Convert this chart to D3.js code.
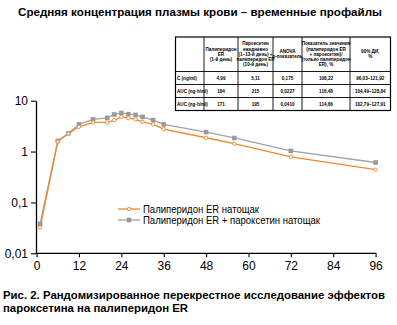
<!DOCTYPE html>
<html>
<head>
<meta charset="utf-8">
<script src="https://cdn.jsdelivr.net/npm/d3@7/dist/d3.min.js"></script>
<style>
  html, body { margin: 0; padding: 0; background: #fff; }
  svg { display: block; font-family: "Liberation Sans", Arial, sans-serif; }
</style>
</head>
<body>
<svg id="chart" width="397" height="325"></svg>
<script>
// Time points, hours
const hours = [1, 6, 9, 12, 16, 20, 22, 24, 26, 28, 30, 33, 36, 48, 56, 72, 96];
// Mean plasma concentration, ng/ml
const palFasted = [0.032, 1.57, 2.24, 3.07, 3.74, 3.74, 4.15, 4.81, 4.54, 4.28, 3.85, 3.42, 2.77, 1.87, 1.43, 0.79, 0.44];
const palParoxFasted = [0.038, 1.62, 2.28, 3.42, 4.28, 4.6, 5.36, 5.76, 5.43, 5.26, 4.81, 4.15, 3.42, 2.42, 1.85, 1.03, 0.61];
const seriesNames = ["Палиперидон ER натощак", "Палиперидон ER + пароксетин натощак"];
const xTicks = [0, 12, 24, 36, 48, 60, 72, 84, 96];
const yTicks = [0.01, 0.1, 1, 10];
const yTickLabels = ["0,01", "0,1", "1", "10"];

// Pharmacokinetic summary table
const tableHeader = [
  [""],
  ["Палиперидон", "ER", "(1-й день)"],
  ["Пароксетин", "ежедневно", "(1–13-й день) +", "палиперидон ER", "(10-й день)"],
  ["ANOVA", "p-показатель"],
  ["Показатель значения", "(палиперидон ER", "+ пароксетин)/", "(только палиперидон", "ER), %"],
  ["90% ДИ,", "%"]
];
const tableRows = [
  ["C (ng/ml)", "4,99", "5,11", "0,175", "108,22", "96,03–121,92"],
  ["AUC (ng·h/ml)", "184", "215", "0,0227", "116,48", "104,49–128,84"],
  ["AUC (ng·h/ml)", "171", "195", "0,0410", "114,66", "102,79–127,91"]
];

const svg = d3.select("#chart");
const orange = "#f0882c";
const grey = "#a3a3a3";

// Title
svg.append("text")
  .attr("x", 18).attr("y", 16)
  .attr("font-size", 11.5).attr("font-weight", "bold")
  .attr("textLength", 364).attr("lengthAdjust", "spacingAndGlyphs")
  .text("Средняя концентрация плазмы крови – временные профайлы");

// Scales
const x = d3.scaleLinear().domain([0, 96]).range([36.6, 375.6]);
const y = d3.scaleLog().domain([0.01, 10]).range([253.3, 100.7]);

// Axes
const xAxis = d3.axisBottom(x).tickValues(xTicks).tickSize(4).tickSizeOuter(0).tickFormat(d3.format("d"));
const gx = svg.append("g").attr("transform", `translate(0,${y(0.01)})`).call(xAxis);
gx.select(".domain").attr("d", `M36,0H${x(96) + 0.5}`).attr("stroke", "#000").attr("stroke-width", 1.3);
gx.selectAll(".tick line").attr("stroke", "#000").attr("stroke-width", 1.1);
gx.selectAll(".tick text").attr("font-size", 12).attr("fill", "#000").attr("dy", "0.85em").attr("font-family", "Liberation Sans, Arial, sans-serif");

const yAxis = d3.axisLeft(y).tickValues(yTicks).tickSize(5).tickSizeOuter(0)
  .tickFormat((d, i) => yTickLabels[i]);
const gy = svg.append("g").attr("transform", `translate(36,0)`).call(yAxis);
gy.select(".domain").attr("stroke", "#000").attr("stroke-width", 1.3);
gy.selectAll(".tick line").attr("stroke", "#000").attr("stroke-width", 1.1);
gy.selectAll(".tick text").attr("font-size", 12).attr("fill", "#000").attr("x", -8).attr("font-family", "Liberation Sans, Arial, sans-serif");

// Series
const line = d3.line().x(d => x(d[0])).y(d => y(d[1]));
const greyData = hours.map((h, i) => [h, palParoxFasted[i]]);
const orangeData = hours.map((h, i) => [h, palFasted[i]]);

svg.append("path").datum(greyData).attr("d", line)
  .attr("fill", "none").attr("stroke", grey).attr("stroke-width", 1.3);
svg.append("path").datum(orangeData).attr("d", line)
  .attr("fill", "none").attr("stroke", orange).attr("stroke-width", 1.3);

svg.append("g").selectAll("rect").data(greyData).join("rect")
  .attr("x", d => x(d[0]) - 2.3).attr("y", d => y(d[1]) - 2.3)
  .attr("width", 4.6).attr("height", 4.6).attr("fill", "#9a9a9a");
svg.append("g").selectAll("circle").data(orangeData).join("circle")
  .attr("cx", d => x(d[0])).attr("cy", d => y(d[1])).attr("r", 1.7)
  .attr("fill", "#fff").attr("stroke", orange).attr("stroke-width", 0.9);

// Legend
const legend = svg.append("g");
const legY = [209, 220];
legend.append("line").attr("x1", 118).attr("x2", 140).attr("y1", legY[0]).attr("y2", legY[0])
  .attr("stroke", orange).attr("stroke-width", 1.3);
legend.append("circle").attr("cx", 129).attr("cy", legY[0]).attr("r", 1.7)
  .attr("fill", "#fff").attr("stroke", orange).attr("stroke-width", 0.9);
legend.append("line").attr("x1", 118).attr("x2", 140).attr("y1", legY[1]).attr("y2", legY[1])
  .attr("stroke", grey).attr("stroke-width", 1.3);
legend.append("rect").attr("x", 126.7).attr("y", legY[1] - 2.3).attr("width", 4.6).attr("height", 4.6)
  .attr("fill", "#9a9a9a");
seriesNames.forEach((name, i) => {
  legend.append("text").attr("x", 143).attr("y", legY[i] + 4)
    .attr("font-size", 11.5)
    .attr("textLength", i === 0 ? 116 : 177).attr("lengthAdjust", "spacingAndGlyphs")
    .text(name);
});

// Table
const colX = [175.5, 204, 238, 273, 302, 350, 390.5];
const rowY = [37, 71.5, 84.5, 97.5, 110.5];
const tbl = svg.append("g");
tbl.append("rect").attr("x", colX[0]).attr("y", rowY[0])
  .attr("width", colX[6] - colX[0]).attr("height", rowY[4] - rowY[0])
  .attr("fill", "#fff").attr("stroke", "#000").attr("stroke-width", 1.2);
colX.slice(1, 6).forEach(cx => tbl.append("line").attr("x1", cx).attr("x2", cx)
  .attr("y1", rowY[0]).attr("y2", rowY[4]).attr("stroke", "#000").attr("stroke-width", 0.9));
rowY.slice(1, 4).forEach(ry => tbl.append("line").attr("x1", colX[0]).attr("x2", colX[6])
  .attr("y1", ry).attr("y2", ry).attr("stroke", "#000").attr("stroke-width", 0.9));

tableHeader.forEach((lines, c) => {
  const cx = (colX[c] + colX[c + 1]) / 2;
  const mid = (rowY[0] + rowY[1]) / 2;
  const lh = 5.2;
  lines.forEach((t, k) => {
    tbl.append("text").attr("x", cx).attr("y", mid + (k - (lines.length - 1) / 2) * lh + 1.6)
      .attr("text-anchor", "middle").attr("font-size", 4.6).attr("font-weight", "bold")
      .text(t);
  });
});
tableRows.forEach((row, r) => {
  const cy = (rowY[r + 1] + rowY[r + 2]) / 2 + 1.6;
  row.forEach((t, c) => {
    tbl.append("text")
      .attr("x", c === 0 ? colX[0] + 1.5 : (colX[c] + colX[c + 1]) / 2)
      .attr("y", cy)
      .attr("text-anchor", c === 0 ? "start" : "middle")
      .attr("font-size", 4.6).attr("font-weight", "bold")
      .text(t);
  });
});

// Caption
const caption = ["Рис. 2. Рандомизированное перекрестное исследование эффектов", "пароксетина на палиперидон ER"];
svg.append("text").attr("x", 3).attr("y", 299)
  .attr("font-size", 11.5).attr("font-weight", "bold")
  .attr("textLength", 382).attr("lengthAdjust", "spacingAndGlyphs")
  .text(caption[0]);
svg.append("text").attr("x", 3).attr("y", 312)
  .attr("font-size", 11.5).attr("font-weight", "bold")
  .attr("textLength", 185).attr("lengthAdjust", "spacingAndGlyphs")
  .text(caption[1]);
</script>
</body>
</html>
